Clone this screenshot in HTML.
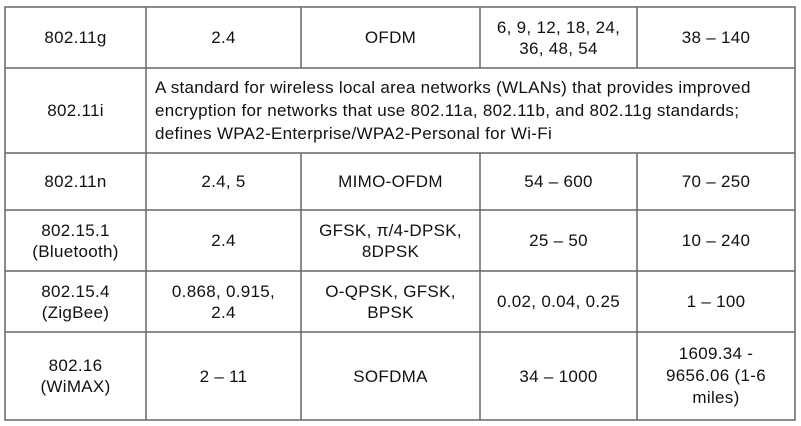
<!DOCTYPE html>
<html><head><style>
body{margin:0;width:801px;height:426px;background:#fff;position:relative;overflow:hidden;font-family:"Liberation Sans",sans-serif;font-size:17px;letter-spacing:0.3px;color:#111}
.c{position:absolute;display:flex;align-items:center;justify-content:center;text-align:center;line-height:21px}
</style></head><body>
<svg width="801" height="426" style="position:absolute;left:0;top:0">
<g stroke="#666" stroke-width="1.5" fill="none">
<rect x="5" y="7" width="790" height="413"/>
<line x1="5" y1="68" x2="795" y2="68"/>
<line x1="5" y1="153" x2="795" y2="153"/>
<line x1="5" y1="210" x2="795" y2="210"/>
<line x1="5" y1="271" x2="795" y2="271"/>
<line x1="5" y1="332" x2="795" y2="332"/>
<line x1="146" y1="7" x2="146" y2="420"/>
<line x1="301" y1="7" x2="301" y2="68"/><line x1="301" y1="153" x2="301" y2="420"/>
<line x1="480" y1="7" x2="480" y2="68"/><line x1="480" y1="153" x2="480" y2="420"/>
<line x1="637" y1="7" x2="637" y2="68"/><line x1="637" y1="153" x2="637" y2="420"/>
</g></svg>
<div class="c" style="left:5px;top:7px;width:141px;height:61px">802.11g</div>
<div class="c" style="left:146px;top:7px;width:155px;height:61px">2.4</div>
<div class="c" style="left:301px;top:7px;width:179px;height:61px">OFDM</div>
<div class="c" style="left:480px;top:7px;width:157px;height:61px">6, 9, 12, 18, 24,<br>36, 48, 54</div>
<div class="c" style="left:637px;top:7px;width:158px;height:61px">38 – 140</div>
<div class="c" style="left:5px;top:68px;width:141px;height:85px">802.11i</div>
<div class="c" style="left:155px;top:68px;width:640px;height:85px;justify-content:flex-start;text-align:left;line-height:23px;white-space:nowrap">A standard for wireless local area networks (WLANs) that provides improved<br>encryption for networks that use 802.11a, 802.11b, and 802.11g standards;<br>defines WPA2-Enterprise/WPA2-Personal for Wi-Fi</div>
<div class="c" style="left:5px;top:153px;width:141px;height:57px">802.11n</div>
<div class="c" style="left:146px;top:153px;width:155px;height:57px">2.4, 5</div>
<div class="c" style="left:301px;top:153px;width:179px;height:57px">MIMO-OFDM</div>
<div class="c" style="left:480px;top:153px;width:157px;height:57px">54 – 600</div>
<div class="c" style="left:637px;top:153px;width:158px;height:57px">70 – 250</div>
<div class="c" style="left:5px;top:210px;width:141px;height:61px">802.15.1<br>(Bluetooth)</div>
<div class="c" style="left:146px;top:210px;width:155px;height:61px">2.4</div>
<div class="c" style="left:301px;top:210px;width:179px;height:61px">GFSK, π/4-DPSK,<br>8DPSK</div>
<div class="c" style="left:480px;top:210px;width:157px;height:61px">25 – 50</div>
<div class="c" style="left:637px;top:210px;width:158px;height:61px">10 – 240</div>
<div class="c" style="left:5px;top:271px;width:141px;height:61px">802.15.4<br>(ZigBee)</div>
<div class="c" style="left:146px;top:271px;width:155px;height:61px">0.868, 0.915,<br>2.4</div>
<div class="c" style="left:301px;top:271px;width:179px;height:61px">O-QPSK, GFSK,<br>BPSK</div>
<div class="c" style="left:480px;top:271px;width:157px;height:61px">0.02, 0.04, 0.25</div>
<div class="c" style="left:637px;top:271px;width:158px;height:61px">1 – 100</div>
<div class="c" style="left:5px;top:332px;width:141px;height:88px">802.16<br>(WiMAX)</div>
<div class="c" style="left:146px;top:332px;width:155px;height:88px">2 – 11</div>
<div class="c" style="left:301px;top:332px;width:179px;height:88px">SOFDMA</div>
<div class="c" style="left:480px;top:332px;width:157px;height:88px">34 – 1000</div>
<div class="c" style="left:637px;top:332px;width:158px;height:88px;line-height:22px">1609.34 -<br>9656.06 (1-6<br>miles)</div>
</body></html>
